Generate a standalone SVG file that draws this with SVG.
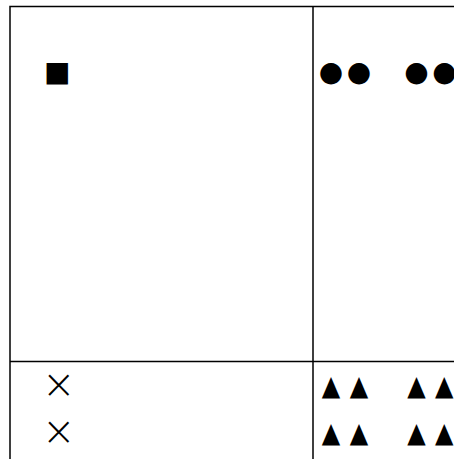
<svg xmlns="http://www.w3.org/2000/svg" width="454" height="459" viewBox="0 0 454 459">
<style>
.ln{stroke:#000;stroke-width:1.5;fill:none}
.g{font-family:"DejaVu Sans",sans-serif;fill:#000}
.x{font-family:"DejaVu Sans",sans-serif;font-weight:200;font-size:40px;fill:#000}
.t{font-family:"DejaVu Sans",sans-serif;font-size:28px;fill:#000}
</style>
<rect width="454" height="459" fill="#fff"/>
<g id="grid">
<path class="ln" d="M10,459 V6.5 H454 M313,6.5 V459 M10,361.5 H454"/>
</g>
<g id="cell-square"><text class="g" x="44" y="81" font-size="28">■</text></g>
<g id="cell-circles"><text class="g" x="318.8 346.8 404.3 432.3" y="81" font-size="28">●●●●</text></g>
<g id="cell-x1"><text class="x" x="42" y="398">×</text></g>
<g id="cell-x2"><text class="x" x="42" y="445">×</text></g>
<g id="cell-tri1" transform="translate(0,394.5) scale(0.857,1)"><text class="t" x="375.4 408.1 475.3 507.6" y="0">▲▲▲▲</text></g>
<g id="cell-tri2" transform="translate(0,442) scale(0.857,1)"><text class="t" x="375.4 408.1 475.3 507.6" y="0">▲▲▲▲</text></g>
</svg>
